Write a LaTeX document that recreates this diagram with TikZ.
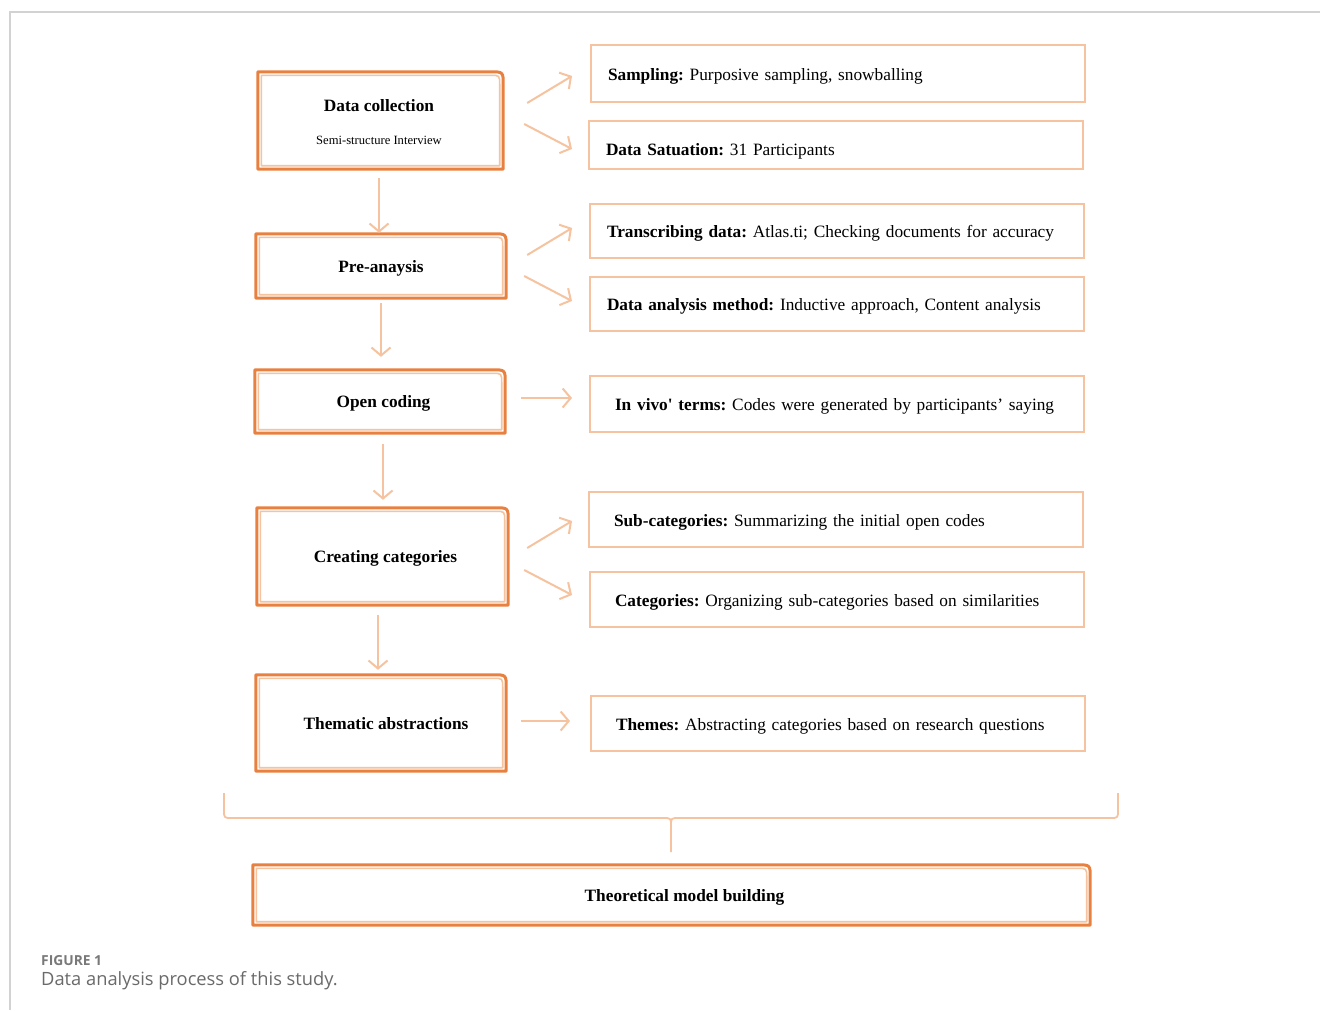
\documentclass[tikz,border=0pt]{standalone}
\usepackage{fontspec}
\setmainfont{Liberation Serif}[Ligatures=TeXOff]
\newfontfamily\capfont{Open Sans}
\usetikzlibrary{arrows.meta,calc}
\frenchspacing

\definecolor{burnt}{HTML}{E8803F}
\definecolor{peach}{HTML}{F5C3A0}
\definecolor{framegray}{HTML}{D2D2D2}
\definecolor{capgray}{HTML}{6A6A6A}

\tikzset{
  stagebox/.style={inner sep=0pt, text height=16pt, text depth=4pt,
    font=\fontsize{17.3}{20}\selectfont\bfseries},
  detailbox/.style={draw=peach, line width=2pt, anchor=west, inner xsep=17pt,
    inner ysep=0pt, minimum width=494pt, text width=460pt, align=left,
    text height=17pt, text depth=4pt,
    font=\fontsize{17.3}{20}\selectfont},
  wideinset/.style={inner xsep=25pt, text width=444pt},
  flow/.style={draw=peach, line width=2pt, -{Straight Barb[length=8pt,width=19pt,line width=2pt]}},
  brace/.style={draw=peach, line width=1.8pt, line join=round},
}

% double frame with one rounded (top-right) corner around a stage node
\newcommand\stageframe[1]{%
  \draw[burnt, line width=3pt, line join=round]
    (#1.south west) -- (#1.north west) -- ($(#1.north east)+(-13,0)$)
    .. controls (#1.north east) .. ($(#1.north east)+(0,13)$)
    -- (#1.south east) -- cycle;
  \draw[peach, line width=1.6pt, line join=round]
    ($(#1.south west)+(3.5,-3.5)$) -- ($(#1.north west)+(3.5,3.5)$)
    -- ($(#1.north east)+(-13,3.5)$)
    .. controls ($(#1.north east)+(-3.5,3.5)$) .. ($(#1.north east)+(-3.5,13)$)
    -- ($(#1.south east)+(-3.5,-3.5)$) -- cycle;
}
% connector between two named nodes, with small offsets from their anchors
\newcommand\branch[4]{\draw[flow] ($(#1)+(#2)$) -- ($(#3)+(#4)$);}

\begin{document}
\begin{tikzpicture}[x=1pt,y=-1pt]
\useasboundingbox (0,0) rectangle (1320,1010);
\fill[white] (0,0) rectangle (1320,1010);

% page frame
\draw[framegray, line width=1.4pt] (10,1010) -- (10,12) -- (1320,12);

% stages
\node[stagebox, minimum width=245pt, minimum height=97pt] (dc) at (380.5,120.5) {};
\node[stagebox] (dct) at (379,105) {Data collection};
\node[font=\fontsize{12.6}{14}\selectfont, inner sep=0pt] (dcs) at (379,140) {Semi-structure Interview};
\node[stagebox, minimum width=250pt, minimum height=64pt] (pa) at (381,266) {Pre-anaysis};
\node[stagebox, minimum width=250pt, minimum height=63pt] (oc) at (380,401.5) {\hspace*{7pt}Open coding};
\node[stagebox, minimum width=251pt, minimum height=97pt] (cc) at (382.5,556.5) {\hspace*{6pt}Creating categories};
\node[stagebox, minimum width=250pt, minimum height=96pt] (ta) at (381,723) {\hspace*{10pt}Thematic abstractions};
\node[stagebox, minimum width=837pt, minimum height=60pt] (tm) at (671.5,895) {\hspace*{26pt}Theoretical model building};

\stageframe{dc}
\stageframe{pa}
\stageframe{oc}
\stageframe{cc}
\stageframe{ta}
\stageframe{tm}

% details
\node[detailbox, minimum height=57pt] (s1) at (590,73.5) {\textbf{Sampling:} Purposive sampling, snowballing};
\node[detailbox, minimum height=48pt, text height=24pt] (s2) at (588,145) {\textbf{Data Satuation:} 31 Participants};
\node[detailbox, minimum height=54pt] (s3) at (589,231) {\textbf{Transcribing data:} Atlas.ti; Checking documents for accuracy};
\node[detailbox, minimum height=54pt] (s4) at (589,304) {\textbf{Data analysis method:} Inductive approach, Content analysis};
\node[detailbox, wideinset, minimum height=56pt] (s5) at (589,404) {\textbf{In vivo' terms:} Codes were generated by participants’ saying};
\node[detailbox, wideinset, minimum height=55pt] (s6) at (588,519.5) {\textbf{Sub-categories:} Summarizing the initial open codes};
\node[detailbox, wideinset, minimum height=55pt] (s7) at (589,599.5) {\textbf{Categories:} Organizing sub-categories based on similarities};
\node[detailbox, wideinset, minimum height=55pt] (s8) at (590,723.5) {\textbf{Themes:} Abstracting categories based on research questions};

% branches to the details
\branch{dc.east}{24,-17.5}{s1.west}{-18,2.5}
\branch{dc.east}{21,3.5}{s2.west}{-16,4}
\branch{pa.east}{21,-11}{s3.west}{-17,-3}
\branch{pa.east}{18,10}{s4.west}{-17,-3}
\branch{oc.east}{16,-3.5}{s5.west}{-17,-6}
\branch{cc.east}{19,-8.5}{s6.west}{-16,1.5}
\branch{cc.east}{16,13.5}{s7.west}{-17,-4.5}
\branch{ta.east}{15,-2}{s8.west}{-20,-2.5}

% steps down the left column
\branch{dc.south}{-1.5,9}{pa.north}{-2,-1}
\branch{pa.south}{0,5}{oc.north}{1,-13}
\branch{oc.south}{3,11}{cc.north}{0.5,-8}
\branch{cc.south}{-4.5,10}{ta.north}{-3,-5}

% brace gathering all stages
\draw[brace] (224,793) -- (224,810) .. controls (224,818) .. (232,818)
  -- (663,818) .. controls (671,818) .. (671,826) -- (671,852);
\draw[brace] (1118,793) -- (1118,810) .. controls (1118,818) .. (1110,818)
  -- (679,818) .. controls (671,818) .. (671,826);

% caption
\node[anchor=base west, inner sep=0pt, text=capgray!90,
  font=\capfont\fontsize{13.8}{15}\selectfont\bfseries] (fig) at (41,965) {FIGURE 1};
\node[anchor=base west, inner sep=0pt, text=capgray,
  font=\capfont\fontsize{18.3}{20}\selectfont] (cap) at (41,985) {Data analysis process of this study.};
\end{tikzpicture}
\end{document}
